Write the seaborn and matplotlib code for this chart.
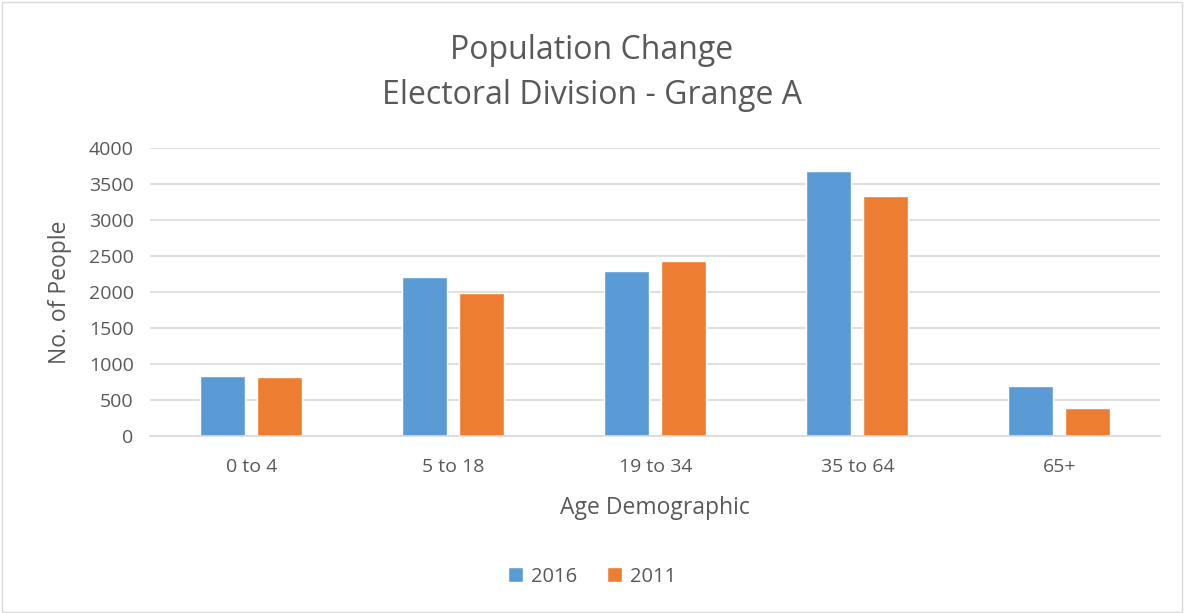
import pandas as pd
import seaborn as sns
import matplotlib.pyplot as plt
from matplotlib.patches import Rectangle

# Data
age_groups = ["0 to 4", "5 to 18", "19 to 34", "35 to 64", "65+"]
pop_2016 = [835, 2200, 2283, 3681, 696]
pop_2011 = [813, 1987, 2432, 3323, 381]
years = ["2016", "2011"]
colors = ["#5B9BD5", "#ED7D31"]

df = pd.DataFrame({
    "Age": age_groups * 2,
    "Year": [years[0]] * len(age_groups) + [years[1]] * len(age_groups),
    "People": pop_2016 + pop_2011,
})

sns.set_style("white")
plt.rcParams['font.family'] = ['Open Sans', 'DejaVu Sans']
text_col = "#595959"

fig = plt.figure(figsize=(11.84, 6.13), dpi=100)
ax = fig.add_axes([0.127, 0.289, 0.853, 0.470])

sns.barplot(data=df, x="Age", y="People", hue="Year", palette=colors,
            width=0.563, gap=0.21, saturation=1, ax=ax, legend=True)

ax.set_ylim(0, 4000)
ax.set_yticks(range(0, 4001, 500))
ax.grid(axis="y", color="#D9D9D9", linewidth=1.2)
ax.set_axisbelow(True)
for s in ["top", "right", "left"]:
    ax.spines[s].set_visible(False)
ax.spines["bottom"].set_color("#D9D9D9")
ax.spines["bottom"].set_linewidth(1.2)
ax.tick_params(axis="both", length=0, labelsize=14, colors=text_col)
ax.tick_params(axis="x", pad=16)
ax.tick_params(axis="y", pad=12)

ax.set_xlabel("Age Demographic", fontsize=16.5, color=text_col, labelpad=14)
ax.set_ylabel("No. of People", fontsize=16.5, color=text_col, labelpad=12)

fig.suptitle("Population Change\nElectoral Division - Grange A",
             fontsize=23, color=text_col, y=0.945, linespacing=1.5)

ax.legend(loc="center", bbox_to_anchor=(0.5, 0.059), bbox_transform=fig.transFigure,
          ncol=2, frameon=False, fontsize=14.5, handlelength=0.75, handleheight=0.75,
          handletextpad=0.4, columnspacing=1.5, labelcolor=text_col)

# chart frame
fig.patches.append(Rectangle((0.002, 0.002), 0.996, 0.994, transform=fig.transFigure,
                             fill=False, edgecolor="#D9D9D9", linewidth=1))

fig.savefig("out.png", dpi=100)
